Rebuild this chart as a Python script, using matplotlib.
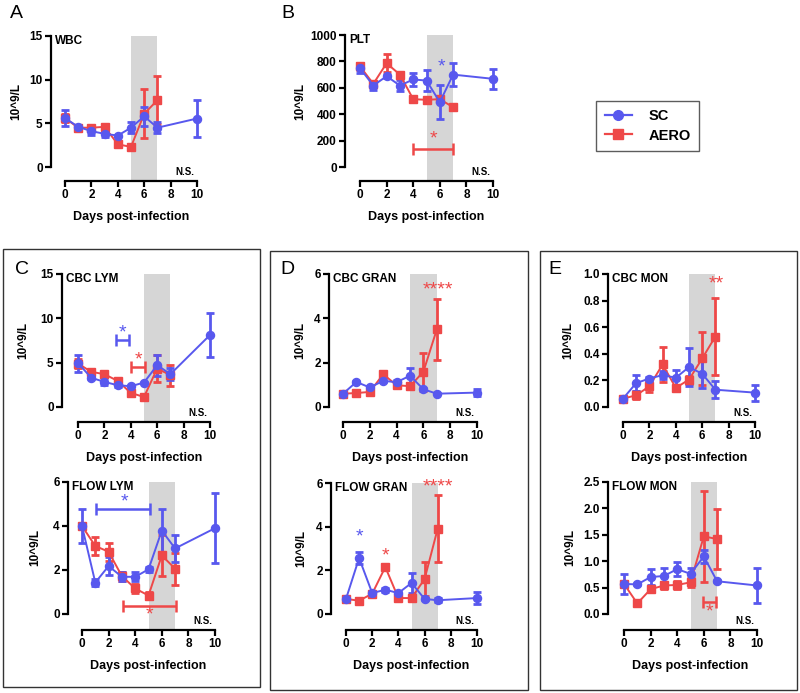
import numpy as np
import matplotlib.pyplot as plt
from matplotlib.lines import Line2D
from matplotlib.patches import Rectangle

plt.rcParams['font.family'] = ['Liberation Sans', 'DejaVu Sans']
plt.rcParams['font.weight'] = 'bold'

W, H = 800, 693
BLUE = '#5858ee'
RED = '#ee4848'
SHADE = '#d6d6d6'

days_sc = [0, 1, 2, 3, 4, 5, 6, 7, 10]
days_aero = [0, 1, 2, 3, 4, 5, 6, 7]

# A - WBC
wbc_sc = [5.6, 4.6, 4.1, 3.8, 3.6, 4.5, 5.8, 4.5, 5.55]
wbc_sc_err = [0.95, 0.25, 0.4, 0.35, 0.1, 0.6, 1.1, 0.6, 2.1]
wbc_aero = [5.6, 4.5, 4.5, 4.6, 2.6, 2.3, 6.1, 7.65]
wbc_aero_err = [0.5, 0.35, 0.2, 0.1, 0.25, 0.1, 2.8, 2.75]

# B - PLT
plt_sc = [748, 617, 688, 617, 663, 655, 491, 700, 668]
plt_sc_err = [38, 30, 10, 45, 50, 80, 130, 88, 75]
plt_aero = [763, 630, 786, 700, 514, 509, 514, 453]
plt_aero_err = [25, 15, 70, 20, 8, 8, 15, 20]

# C - CBC LYM
clym_sc = [4.95, 3.3, 2.83, 2.46, 2.34, 2.76, 4.72, 3.7, 8.12]
clym_sc_err = [0.95, 0.15, 0.4, 0.25, 0.1, 0.08, 1.2, 0.7, 2.5]
clym_aero = [4.9, 3.97, 3.7, 2.95, 1.59, 1.13, 4.34, 3.59]
clym_aero_err = [0.5, 0.2, 0.2, 0.2, 0.1, 0.1, 1.5, 1.2]

# C - FLOW LYM
flym_sc = [4.0, 1.43, 2.18, 1.69, 1.69, 2.03, 3.79, 2.98, 3.9]
flym_sc_err = [0.77, 0.15, 0.4, 0.2, 0.2, 0.12, 1.0, 0.6, 1.6]
flym_aero = [4.0, 3.09, 2.83, 1.72, 1.16, 0.84, 2.66, 2.06]
flym_aero_err = [0.1, 0.4, 0.4, 0.2, 0.22, 0.15, 0.95, 0.72]

# D - CBC GRAN
cgran_sc = [0.6, 1.13, 0.88, 1.18, 1.12, 1.41, 0.8, 0.6, 0.65]
cgran_sc_err = [0.03, 0.05, 0.05, 0.05, 0.1, 0.35, 0.05, 0.03, 0.15]
cgran_aero = [0.6, 0.63, 0.68, 1.48, 0.98, 0.94, 1.59, 3.5]
cgran_aero_err = [0.03, 0.03, 0.05, 0.1, 0.08, 0.15, 0.85, 1.36]

# D - FLOW GRAN
fgran_sc = [0.69, 2.56, 0.96, 1.11, 0.96, 1.42, 0.69, 0.63, 0.73]
fgran_sc_err = [0.03, 0.28, 0.05, 0.1, 0.05, 0.48, 0.05, 0.1, 0.28]
fgran_aero = [0.69, 0.61, 0.93, 2.15, 0.73, 0.73, 1.6, 3.91]
fgran_aero_err = [0.03, 0.03, 0.05, 0.05, 0.03, 0.03, 0.77, 1.53]

# E - CBC MON
cmon_sc = [0.063, 0.18, 0.214, 0.24, 0.22, 0.30, 0.25, 0.13, 0.108]
cmon_sc_err = [0.005, 0.06, 0.01, 0.03, 0.06, 0.14, 0.11, 0.065, 0.06]
cmon_aero = [0.063, 0.088, 0.156, 0.32, 0.144, 0.206, 0.365, 0.53]
cmon_aero_err = [0.005, 0.03, 0.045, 0.13, 0.01, 0.03, 0.2, 0.29]

# E - FLOW MON
fmon_sc = [0.57, 0.56, 0.70, 0.72, 0.85, 0.76, 1.09, 0.62, 0.54]
fmon_sc_err = [0.19, 0.02, 0.15, 0.15, 0.13, 0.12, 0.13, 0.02, 0.33]
fmon_aero = [0.57, 0.20, 0.47, 0.54, 0.55, 0.60, 1.47, 1.42]
fmon_aero_err = [0.05, 0.02, 0.03, 0.06, 0.08, 0.08, 0.86, 0.56]

# pixel layout: y-axis x, x=0 px, x=10 px, top px, y=0 px, x-axis px
panels = [
    dict(title='WBC', geo=(51, 65, 197, 36, 167, 181), ymax=15, yt=[0, 5, 10, 15], fmt='{:.0f}',
         sc=(wbc_sc, wbc_sc_err), aero=(wbc_aero, wbc_aero_err), ylab_x=22, xlab_y=211),
    dict(title='PLT', geo=(345, 360, 493, 35, 167, 181), ymax=1000, yt=[0, 200, 400, 600, 800, 1000], fmt='{:.0f}',
         sc=(plt_sc, plt_sc_err), aero=(plt_aero, plt_aero_err), ylab_x=306, xlab_y=211,
         stars=[(6.1, 756, '*', BLUE), (5.5, 214, '*', RED)], brackets=[(4, 7, 134, RED)]),
    dict(title='CBC LYM', geo=(62, 78, 210, 274, 407, 422), ymax=15, yt=[0, 5, 10, 15], fmt='{:.0f}',
         sc=(clym_sc, clym_sc_err), aero=(clym_aero, clym_aero_err), ylab_x=29, xlab_y=452,
         stars=[(3.4, 8.3, '*', BLUE), (4.55, 5.3, '*', RED)],
         brackets=[(2.9, 3.9, 7.56, BLUE), (4.03, 5.09, 4.46, RED)]),
    dict(title='FLOW LYM', geo=(68, 82, 215, 482, 614, 630), ymax=6, yt=[0, 2, 4, 6], fmt='{:.0f}',
         sc=(flym_sc, flym_sc_err), aero=(flym_aero, flym_aero_err), ylab_x=41, xlab_y=660,
         stars=[(3.17, 5.07, '*', BLUE), (5.1, -0.03, '*', RED)],
         brackets=[(1.08, 5.15, 4.77, BLUE), (3.09, 7.06, 0.37, RED)]),
    dict(title='CBC GRAN', geo=(329, 343, 477, 274, 407, 422), ymax=6, yt=[0, 2, 4, 6], fmt='{:.0f}',
         sc=(cgran_sc, cgran_sc_err), aero=(cgran_aero, cgran_aero_err), ylab_x=306, xlab_y=452,
         stars=[(7.1, 5.29, '****', RED)]),
    dict(title='FLOW GRAN', geo=(331, 346, 477, 483, 614, 630), ymax=6, yt=[0, 2, 4, 6], fmt='{:.0f}',
         sc=(fgran_sc, fgran_sc_err), aero=(fgran_aero, fgran_aero_err), ylab_x=307, xlab_y=660,
         stars=[(1.0, 3.53, '*', BLUE), (3.0, 2.64, '*', RED), (7.0, 5.8, '****', RED)]),
    dict(title='CBC MON', geo=(608, 623, 755, 274, 407, 422), ymax=1.0, yt=[0, 0.2, 0.4, 0.6, 0.8, 1.0], fmt='{:.1f}',
         sc=(cmon_sc, cmon_sc_err), aero=(cmon_aero, cmon_aero_err), ylab_x=574, xlab_y=452,
         stars=[(7.03, 0.927, '**', RED)]),
    dict(title='FLOW MON', geo=(608, 624, 757, 482, 614, 630), ymax=2.5, yt=[0, 0.5, 1.0, 1.5, 2.0, 2.5], fmt='{:.1f}',
         sc=(fmon_sc, fmon_sc_err), aero=(fmon_aero, fmon_aero_err), ylab_x=576, xlab_y=660,
         stars=[(6.45, 0.04, '*', RED)], brackets=[(5.93, 6.93, 0.23, RED)]),
]

fig = plt.figure(figsize=(W / 100, H / 100), dpi=100)

for p in panels:
    xa, x0, x10, ytop, y0, yx = p['geo']
    ymax = p['ymax']
    ppx = (x10 - x0) / 10
    ppy = (y0 - ytop) / ymax
    right = x10 + 12
    ax = fig.add_axes([xa / W, 1 - yx / H, (right - xa) / W, (yx - ytop) / H])
    ax.set_xlim((xa - x0) / ppx, 10 + 12 / ppx)
    ax.set_ylim(-(yx - y0) / ppy, ymax)
    ax.patch.set_alpha(0)
    ax.axvspan(5, 7, color=SHADE, lw=0, zorder=0)

    for (vals, err), days, col, mk in [(p['aero'], days_aero, RED, 's'), (p['sc'], days_sc, BLUE, 'o')]:
        eb = ax.errorbar(days, vals, yerr=err, color=col, marker=mk, ms=5.8, lw=1.4,
                         elinewidth=2, capsize=3.2, capthick=2, zorder=3)
        for a in eb.get_children():
            a.set_clip_on(False)

    for xs, xe, yb, col in p.get('brackets', []):
        ax.errorbar([(xs + xe) / 2], [yb], xerr=[(xe - xs) / 2], color=col, lw=0,
                    elinewidth=1.8, capsize=4, capthick=1.8, zorder=3)
    for xs, ys, s, col in p.get('stars', []):
        ax.text(xs, ys, s, color=col, fontsize=14, fontweight='normal', ha='center', va='center', zorder=4)

    for s in ['top', 'right']:
        ax.spines[s].set_visible(False)
    for s in ['left', 'bottom']:
        ax.spines[s].set_linewidth(1.6)
    ax.spines['left'].set_bounds(0, ymax)
    ax.spines['bottom'].set_bounds(0, 10)
    ax.set_xticks([0, 2, 4, 6, 8, 10])
    ax.set_yticks(p['yt'])
    ax.set_yticklabels([p['fmt'].format(v) for v in p['yt']])
    ax.tick_params(width=1.6, length=4, labelsize=8.5, pad=2)

    wpx = right - xa
    hpx = yx - ytop
    ax.set_ylabel('10^9/L', fontsize=8.5, fontweight='bold')
    ax.yaxis.set_label_coords((p['ylab_x'] - xa) / wpx, (yx - (ytop + y0) / 2) / hpx)
    ax.set_xlabel('Days post-infection', fontsize=9, fontweight='bold')
    ax.xaxis.set_label_coords(((x0 + x10) / 2 - xa) / wpx, -(p['xlab_y'] - yx) / hpx)

    ax.text(4 / wpx, (yx - ytop - 5) / hpx, p['title'], transform=ax.transAxes,
            fontsize=8.5, fontweight='bold', ha='left', va='center')
    ax.text((x10 - 3 - xa) / wpx, 9 / hpx, 'N.S.', transform=ax.transAxes,
            fontsize=7, fontweight='bold', ha='right', va='center')

# panel letters
for lab, lx, ly in [('A', 10, 14), ('B', 281, 14), ('C', 15, 270), ('D', 280, 270), ('E', 548, 270)]:
    fig.text(lx / W, 1 - ly / H, lab, fontsize=14, fontweight='normal', ha='left', va='center')

# boxes around C, D, E
for bx0, by0, bx1, by1 in [(3, 249, 260, 687), (270, 251, 528, 690), (540, 251, 797, 690)]:
    fig.patches.append(Rectangle((bx0 / W, 1 - by1 / H), (bx1 - bx0) / W, (by1 - by0) / H,
                                 transform=fig.transFigure, fill=False, ec='#333333', lw=1))

handles = [Line2D([], [], color=BLUE, marker='o', ms=7, lw=1.6),
           Line2D([], [], color=RED, marker='s', ms=7, lw=1.6)]
leg = fig.legend(handles, ['SC', 'AERO'], loc='center', bbox_to_anchor=(647.5 / W, 1 - 126 / H),
                 prop={'weight': 'bold', 'size': 10.5}, frameon=True, fancybox=False,
                 handlelength=1.9, borderpad=0.55, labelspacing=0.35, handletextpad=1.1)
leg.get_frame().set_edgecolor('#333333')
leg.get_frame().set_linewidth(1)

fig.savefig('out.png', dpi=100)
